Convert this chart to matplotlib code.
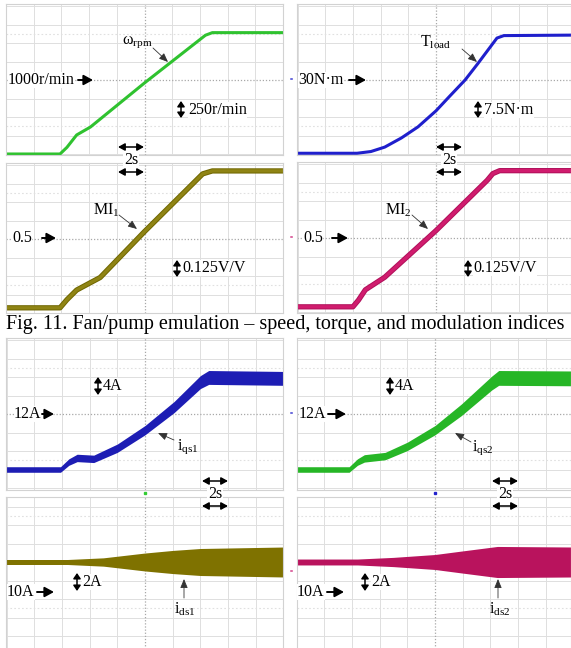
import numpy as np
import matplotlib
matplotlib.use('Agg')
import matplotlib.pyplot as plt
from matplotlib.transforms import blended_transform_factory

plt.rcParams['font.family'] = ['Liberation Serif', 'DejaVu Serif']
plt.rcParams['mathtext.fontset'] = 'custom'
plt.rcParams['mathtext.rm'] = 'Liberation Serif'
plt.rcParams['mathtext.it'] = 'Liberation Serif:italic'

# ---------------- data (time in s, 2 s/div) ----------------
# Fig. 11 - speed, torque, modulation indices
speed_t = [-10, -6.1, -5.6, -4.9, -3.9, 0.0, 4.4, 4.9, 10]
speed_rpm = [0, 0, 90, 257, 365, 960, 1605, 1640, 1640]

mi1_t = [-10, -6.1, -5.6, -4.9, -3.2, 0.0, 4.2, 4.9, 10]
mi1 = [0.035, 0.035, 0.09, 0.155, 0.24, 0.55, 0.94, 0.96, 0.96]

tload_t = [-10, -5.7, -4.7, -3.7, -2.5, -1.3, 0.0, 1.0, 2.1, 3.0, 4.0, 4.4, 4.9, 10]
tload_nm = [0.3, 0.3, 1.0, 2.8, 6.5, 11.0, 17.5, 23.5, 30.0, 36.5, 44.0, 47.0, 48.0, 48.2]

mi2_t = [-10, -6.0, -5.6, -5.1, -3.7, 0.0, 3.7, 4.1, 4.6, 10]
mi2 = [0.035, 0.035, 0.08, 0.15, 0.235, 0.55, 0.89, 0.935, 0.955, 0.955]

# Fig. 12 - dq currents (mean level and ripple half-width, A)
iqs1_t = [-10, -6.1, -5.5, -4.9, -3.7, -2.0, 0.0, 2.1, 4.0, 4.6, 10]
iqs1_mean = [0.0, 0.0, 1.6, 2.5, 2.3, 4.6, 8.5, 13.5, 18.9, 19.9, 19.7]
iqs1_ripple = [0.6, 0.6, 0.7, 0.8, 0.8, 0.9, 1.0, 1.2, 1.4, 1.5, 1.5]

iqs2_t = [-10, -6.2, -5.6, -5.1, -3.6, -2.0, 0.0, 1.9, 4.1, 4.6, 10]
iqs2_mean = [0.0, 0.0, 1.6, 2.4, 2.9, 5.0, 8.5, 12.9, 18.7, 19.8, 19.7]
iqs2_ripple = [0.6, 0.6, 0.7, 0.8, 0.8, 0.9, 1.0, 1.25, 1.5, 1.6, 1.6]

ids1_t = [-10, -5.6, -3.0, 0.0, 2.0, 4.0, 10]
ids1_ripple = [0.27, 0.27, 0.45, 0.97, 1.25, 1.46, 1.62]

ids2_t = [-10, -5.6, -3.0, 0.0, 2.0, 4.5, 10]
ids2_ripple = [0.32, 0.32, 0.5, 0.81, 1.2, 1.68, 1.62]

# ---------------- figure ----------------
W, H = 571, 648
fig = plt.figure(figsize=(W / 100, H / 100), dpi=100)
fig.patch.set_facecolor('white')

GRID = '#dedede'
PX_X = 27.7   # px per horizontal division
PX_Y = 18.5   # px per vertical division


def panel(x0, x1, xc, y0, y1, yc, yref, per_div):
    ax = fig.add_axes([x0 / W, 1 - y1 / H, (x1 - x0) / W, (y1 - y0) / H])
    ax.set_xlim((x0 - xc) / PX_X * 2, (x1 - xc) / PX_X * 2)
    ax.set_ylim(yref - (y1 - yc) / PX_Y * per_div, yref + (yc - y0) / PX_Y * per_div)
    ax.set_xticks([])
    ax.set_yticks([])
    for s in ax.spines.values():
        s.set_color('#d2d2d2')
        s.set_linewidth(0.8)
    for k in range(-5, 6):
        if k != 0:
            ax.axvline(2 * k, color=GRID, lw=0.7, zorder=0)
    for k in range(-6, 7):
        if k != 0:
            ax.axhline(yref + k * per_div, color=GRID, lw=0.7, zorder=0)
    for k in (-2.5, 2.5):
        ax.axhline(yref + k * per_div, color='#e0e0e0', lw=0.8, ls=(0, (1.5, 2)), zorder=0)
    ax.axvline(0, color='#a8a8a8', lw=0.9, ls=(0, (1, 1.5)), zorder=0)
    ax.axhline(yref, color='#a8a8a8', lw=0.9, ls=(0, (1, 1.5)), zorder=0)
    return ax


# Fig. 11 panels
ax1 = panel(6, 283, 144.5, 4, 155, 80, 1000, 250)
ax1.plot(speed_t, speed_rpm, color='#2fc22f', lw=2.2, clip_on=False, solid_capstyle='butt')

ax2 = panel(6, 283, 144.5, 163, 313, 239, 0.5, 0.125)
ax2.plot(mi1_t, mi1, color='#6f6600', lw=3.8, clip_on=False, solid_capstyle='butt')
ax2.plot(mi1_t, mi1, color='#8f8414', lw=2.4, clip_on=False, solid_capstyle='butt')

ax3 = panel(297, 571, 436, 4, 155, 80, 30, 7.5)
ax3.plot(tload_t, tload_nm, color='#1f1fcc', lw=2.2, clip_on=False, solid_capstyle='butt')

ax4 = panel(297, 571, 436, 162, 313, 238, 0.5, 0.125)
ax4.plot(mi2_t, mi2, color='#b0105a', lw=3.8, clip_on=False, solid_capstyle='butt')
ax4.plot(mi2_t, mi2, color='#d01c6e', lw=2.4, clip_on=False, solid_capstyle='butt')

# Fig. 12 panels
ax5 = panel(6, 283, 145, 338, 490, 414, 12, 4)
m = np.array(iqs1_mean); r = np.array(iqs1_ripple)
ax5.fill_between(iqs1_t, m - r, m + r, color='#1d1db4', lw=0)

ax6 = panel(6, 283, 145, 497, 652, 562, 0, 2)
r = np.array(ids1_ripple)
ax6.fill_between(ids1_t, -r, r, color='#7f7200', lw=0)

ax7 = panel(297, 571, 435, 338, 490, 414, 12, 4)
m = np.array(iqs2_mean); r = np.array(iqs2_ripple)
ax7.fill_between(iqs2_t, m - r, m + r, color='#26b626', lw=0)

ax8 = panel(297, 571, 435, 497, 652, 562, 0, 2)
r = np.array(ids2_ripple)
ax8.fill_between(ids2_t, -r, r, color='#b9135d', lw=0)

# trigger markers between the Fig. 12 panels (at t = 0)
for ax, c in ((ax5, '#33cc33'), (ax7, '#2222cc')):
    tr = blended_transform_factory(ax.transData, ax.transAxes)
    ax.plot([0], [-0.02], marker='s', ms=1.5, color=c, transform=tr, clip_on=False)

# ---------------- annotation overlay (pixel coords) ----------------
ov = fig.add_axes([0, 0, 1, 1], zorder=10)
ov.set_xlim(0, W)
ov.set_ylim(H, 0)
ov.axis('off')
ov.patch.set_alpha(0)

FS = 11.5


def label(x, y, s, ha='left', size=FS, bg=True, color='k'):
    kw = {}
    if bg:
        kw['bbox'] = dict(fc='white', ec='none', pad=0.3)
    ov.text(x, y, s, ha=ha, va='center', fontsize=size, color=color, **kw)


def arrow(x0, y0, x1, y1, style, lw=1.4, color='k', ms=10):
    ov.annotate('', xy=(x1, y1), xytext=(x0, y0),
                arrowprops=dict(arrowstyle=style, lw=lw, color=color,
                                shrinkA=0, shrinkB=0, mutation_scale=ms))


def rarrow(x0, x1, y):
    arrow(x0, y, x1, y, '-|>,head_length=0.55,head_width=0.3')


def vdouble(x, y0, y1):
    arrow(x, y0, x, y1, '<|-|>,head_length=0.32,head_width=0.22', lw=1.1)


def hdouble(x0, x1, y):
    arrow(x0, y, x1, y, '<|-|>,head_length=0.4,head_width=0.22', lw=1.1)


def pointer(x0, y0, x1, y1):
    arrow(x0, y0, x1, y1, '-|>,head_length=0.6,head_width=0.25', lw=0.6, color='#333333', ms=9)


def two_s(x0, x1, ya, yb):
    hdouble(x0, x1, ya)
    hdouble(x0, x1, yb)
    label((x0 + x1) / 2, (ya + yb) / 2, '2s', ha='center')


# Fig. 11 left
label(122, 42, r'ω$_{\mathrm{rpm}}$', bg=False)
pointer(153, 48, 168, 62)
label(8, 80, '1000r/min')
rarrow(78, 93, 80)
vdouble(181, 101, 118)
label(188, 110, '250r/min')
two_s(118, 144, 147, 172)
label(93, 210, r'MI$_{\mathrm{1}}$', bg=False)
pointer(119, 215, 137, 229)
label(12, 238, '0.5')
rarrow(42, 56, 238)
vdouble(177, 260, 277)
label(182, 268, '0.125V/V')

# Fig. 11 right
label(420, 42, r'T$_{\mathrm{load}}$', bg=False)
pointer(462, 49, 477, 62)
label(291, 80, '≡', ha='center', size=4, bg=False, color='#2222cc')
label(298, 80, '30N·m')
rarrow(349, 366, 80)
vdouble(478, 101, 118)
label(484, 110, '7.5N·m')
two_s(436, 462, 147, 172)
label(385, 210, r'MI$_{\mathrm{2}}$', bg=False)
pointer(412, 215, 428, 229)
label(291, 238, '≡', ha='center', size=4, bg=False, color='#cc2277')
label(303, 238, '0.5')
rarrow(332, 348, 238)
vdouble(468, 260, 277)
label(473, 268, '0.125V/V')

fig.text(0.5, 1 - 324 / H,
         'Fig. 11. Fan/pump emulation – speed, torque, and modulation indices',
         ha='center', va='center', fontsize=14.5)

# Fig. 12 left
vdouble(98, 377, 395)
label(103, 386, '4A')
label(14, 414, '12A')
rarrow(42, 54, 414)
pointer(174, 440, 158, 433)
label(177, 447, r'i$_{\mathrm{qs1}}$', bg=False)
two_s(202, 228, 481, 506)
vdouble(77, 573, 591)
label(82, 582, '2A')
label(7, 592, '10A')
rarrow(37, 54, 592)
pointer(184, 598, 184, 579)
label(185, 609, r'i$_{\mathrm{ds1}}$', ha='center', bg=False)

# Fig. 12 right
vdouble(390, 377, 395)
label(395, 386, '4A')
label(291, 414, '≡', ha='center', size=4, bg=False, color='#2222cc')
label(299, 414, '12A')
rarrow(328, 346, 414)
pointer(471, 442, 455, 433)
label(472, 448, r'i$_{\mathrm{qs2}}$', bg=False)
two_s(492, 518, 481, 506)
vdouble(365, 573, 591)
label(371, 582, '2A')
label(291, 572, '≡', ha='center', size=4, bg=False, color='#cc2277')
label(297, 592, '10A')
rarrow(327, 344, 592)
pointer(498, 598, 498, 579)
label(500, 609, r'i$_{\mathrm{ds2}}$', ha='center', bg=False)

fig.savefig('out.png', dpi=100, facecolor='white')
